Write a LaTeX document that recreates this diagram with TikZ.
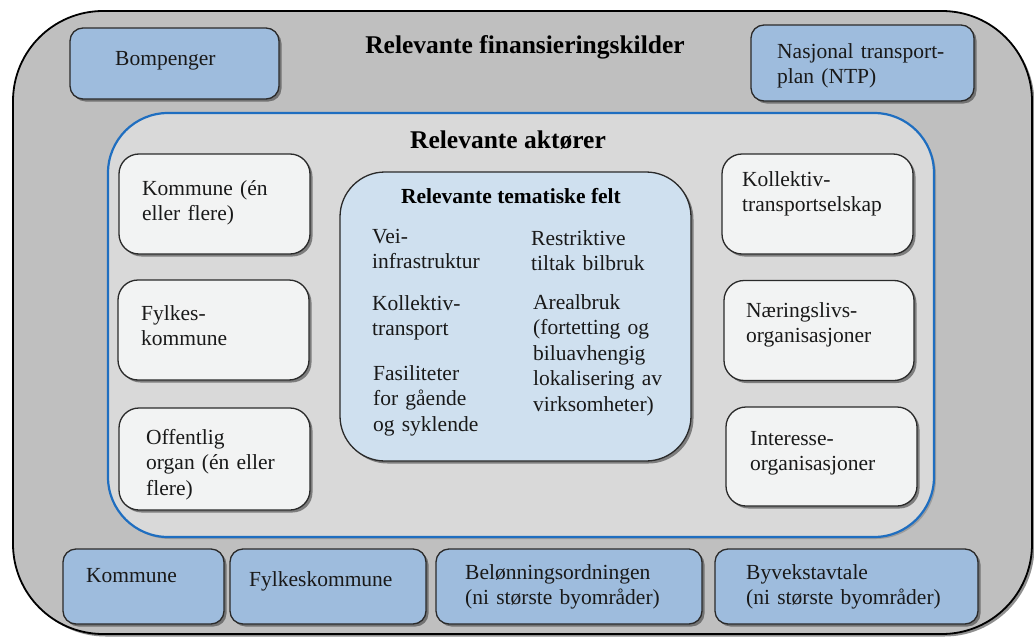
\documentclass[tikz,border=0pt]{standalone}
\usepackage{fontspec}
\setmainfont{Liberation Serif}
\usetikzlibrary{shadows}
\definecolor{outerfill}{HTML}{BFBFBF}
\definecolor{innerfill}{HTML}{D9D9D9}
\definecolor{bluefill}{HTML}{9EBCDD}
\definecolor{centerfill}{HTML}{CFE0EF}
\definecolor{whitefill}{HTML}{F2F3F3}
\definecolor{innerline}{HTML}{1F6EC0}
\definecolor{boxline}{HTML}{2A2A2A}
\begin{document}
\begin{tikzpicture}[x=1pt,y=-1pt,
  shad/.style={drop shadow={shadow xshift=2.5pt,shadow yshift=-2.5pt,opacity=0.55,fill=black!80}},
  lightshad/.style={drop shadow={shadow xshift=2pt,shadow yshift=-2pt,opacity=0.3,fill=black!70}},
  outerbox/.style={draw=black,line width=1.8pt,fill=outerfill,rounded corners=90pt,shad,inner sep=0pt},
  innerbox/.style={draw=innerline,line width=2.2pt,fill=innerfill,rounded corners=60pt,lightshad,inner sep=0pt},
  centerbox/.style={draw=boxline,line width=1.3pt,fill=centerfill,rounded corners=45pt,shad,inner sep=0pt},
  whitebox/.style={draw=boxline,line width=1.3pt,fill=whitefill,rounded corners=20pt,shad,inner sep=0pt},
  bluebox/.style={draw=boxline,line width=1.3pt,fill=bluefill,rounded corners=13pt,shad,inner sep=0pt},
  txt/.style={font=\fontsize{21.5}{25.5}\selectfont,inner sep=0pt,anchor=base west,text width=260pt,align=left,text=black!90},
  bigtitle/.style={font=\fontsize{25.5}{30}\selectfont\bfseries,inner sep=0pt,anchor=base},
  smalltitle/.style={font=\fontsize{21.5}{26}\selectfont\bfseries,inner sep=0pt,anchor=base}
]
\useasboundingbox (0,0) rectangle (1034,637);

% outer frame
\node[outerbox,minimum width=1019pt,minimum height=623pt] (outer) at (522.5,322.5) {};
\node[bigtitle] (outerT) at (525,53) {Relevante finansieringskilder};

% top blue boxes
\node[bluebox,minimum width=209pt,minimum height=71pt] (bom) at (174.5,63.5) {};
\node[txt] (bomT) at (115,65) {Bompenger};
\node[bluebox,minimum width=223pt,minimum height=76pt] (ntp) at (862.5,63) {};
\node[txt] (ntpT) at (777,58) {Nasjonal transport-\\plan (NTP)};

% inner frame
\node[innerbox,minimum width=826pt,minimum height=424pt] (inner) at (521,325) {};
\node[bigtitle] (innerT) at (508,148) {Relevante aktører};

% left white boxes
\node[whitebox,minimum width=191pt,minimum height=100pt] (kom) at (214.5,204) {};
\node[txt] (komT) at (142,195) {Kommune (én\\eller flere)};
\node[whitebox,minimum width=191pt,minimum height=100pt] (fylk) at (213.5,330) {};
\node[txt] (fylkT) at (141,320) {Fylkes-\\kommune};
\node[whitebox,minimum width=191pt,minimum height=102pt] (off) at (214.5,459) {};
\node[txt] (offT) at (146,444) {Offentlig\\organ (én eller\\flere)};

% right white boxes
\node[whitebox,minimum width=191pt,minimum height=100pt] (koll) at (817.5,204) {};
\node[txt] (kollT) at (742,186) {Kollektiv-\\transportselskap};
\node[whitebox,minimum width=190pt,minimum height=100pt] (naer) at (819,330.5) {};
\node[txt] (naerT) at (746,317) {Næringslivs-\\organisasjoner};
\node[whitebox,minimum width=191pt,minimum height=99pt] (int) at (821.5,456.5) {};
\node[txt] (intT) at (750,445) {Interesse-\\organisasjoner};

% central box
\node[centerbox,minimum width=351pt,minimum height=289pt] (cent) at (515.5,316.5) {};
\node[smalltitle] (centT) at (511,203) {Relevante tematiske felt};
\node[txt] (vei) at (372,243) {Vei-\\infrastruktur};
\node[txt] (kolt) at (372,310) {Kollektiv-\\transport};
\node[txt] (fas) at (373,380) {Fasiliteter\\for gående\\og syklende};
\node[txt] (res) at (531,245) {Restriktive\\tiltak bilbruk};
\node[txt] (are) at (533,309) {Arealbruk\\(fortetting og\\biluavhengig\\lokalisering av\\virksomheter)};

% bottom blue boxes
\node[bluebox,minimum width=161pt,minimum height=75pt] (bkom) at (143.5,586.5) {};
\node[txt] (bkomT) at (86,582) {Kommune};
\node[bluebox,minimum width=196pt,minimum height=75pt] (bfylk) at (328,586.5) {};
\node[txt] (bfylkT) at (249,586) {Fylkeskommune};
\node[bluebox,minimum width=266pt,minimum height=75pt] (belo) at (569,586.5) {};
\node[txt] (beloT) at (465,579) {Belønningsordningen\\(ni største byområder)};
\node[bluebox,minimum width=263pt,minimum height=75pt] (byv) at (846.5,586.5) {};
\node[txt] (byvT) at (746,579) {Byvekstavtale\\(ni største byområder)};
\end{tikzpicture}
\end{document}
